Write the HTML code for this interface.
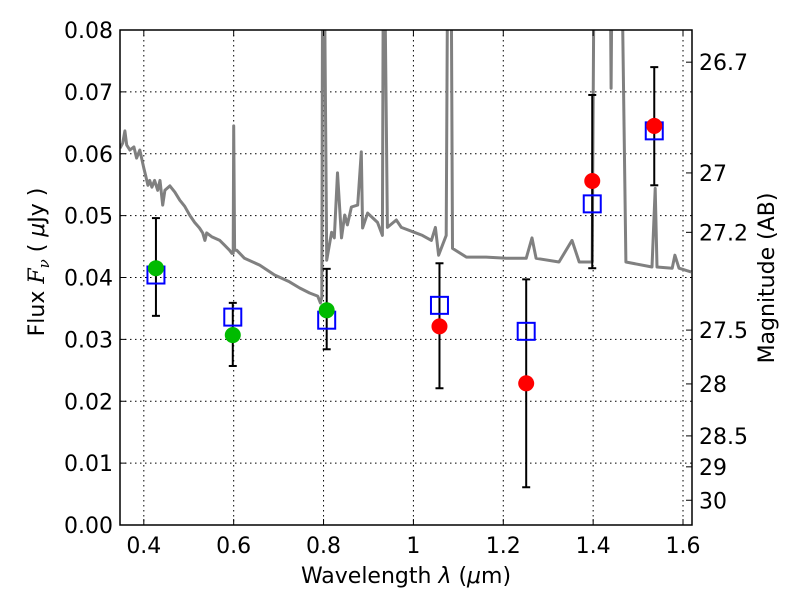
<!DOCTYPE html>
<html><head><meta charset="utf-8"><style>
body{margin:0;background:#fff}
svg text{font-family:"DejaVu Sans","Liberation Sans",sans-serif;fill:#000}
</style></head><body>
<svg id="chart" width="800" height="600" xmlns="http://www.w3.org/2000/svg">
<g id="grid"></g>
<g id="plot"></g>
<g id="axes"></g>
</svg>
<script>
const xTicks=[0.4,0.6,0.8,1.0,1.2,1.4,1.6];
const xTickLabels=["0.4","0.6","0.8","1","1.2","1.4","1.6"];
const yTicks=[0,0.01,0.02,0.03,0.04,0.05,0.06,0.07,0.08];
const yTickLabels=["0.00","0.01","0.02","0.03","0.04","0.05","0.06","0.07","0.08"];
const magLabels=["26.7","27","27.2","27.5","28","28.5","29","30"];
const magFlux=[0.0748,0.0569,0.0473,0.0315,0.0228,0.0144,0.0094,0.0040];
const specLam=[0.347,0.353,0.358,0.362,0.369,0.378,0.384,0.391,0.396,0.400,0.404,0.409,0.413,0.418,0.424,0.431,0.436,0.442,0.447,0.458,0.469,0.480,0.491,0.502,0.513,0.524,0.531,0.536,0.540,0.551,0.569,0.580,0.591,0.596,0.599,0.600,0.602,0.607,0.624,0.658,0.691,0.724,0.747,0.769,0.787,0.793,0.796,0.798,0.802,0.807,0.818,0.824,0.831,0.840,0.847,0.853,0.862,0.876,0.884,0.887,0.898,0.920,0.931,0.933,0.936,0.942,0.962,0.973,1.002,1.020,1.040,1.049,1.056,1.073,1.076,1.084,1.087,1.118,1.162,1.207,1.251,1.264,1.273,1.324,1.353,1.369,1.398,1.402,1.438,1.440,1.442,1.464,1.473,1.531,1.538,1.542,1.576,1.582,1.591,1.618];
const specFlux=[0.0609,0.0617,0.0637,0.0614,0.0606,0.0611,0.0593,0.0606,0.0590,0.0577,0.0565,0.0549,0.0557,0.0546,0.0557,0.0541,0.0557,0.0517,0.0541,0.0548,0.0538,0.0525,0.0515,0.0501,0.0489,0.0480,0.0472,0.0460,0.0472,0.0466,0.0460,0.0452,0.0444,0.0439,0.0439,0.0645,0.0444,0.0444,0.0431,0.0420,0.0404,0.0393,0.0383,0.0375,0.0370,0.0359,0.0368,0.09,0.09,0.0428,0.0473,0.0464,0.0569,0.0464,0.0501,0.0485,0.0514,0.0517,0.0603,0.0480,0.0504,0.0489,0.0468,0.09,0.09,0.0481,0.0493,0.0481,0.0473,0.0468,0.0460,0.0481,0.0436,0.0468,0.09,0.09,0.0447,0.0433,0.0433,0.0431,0.0431,0.0464,0.0431,0.0425,0.0460,0.0425,0.0425,0.09,0.09,0.0706,0.09,0.09,0.0425,0.0417,0.0544,0.0417,0.0415,0.0436,0.0415,0.0409];
const obsLam=[0.427,0.598,0.807,1.058,1.251,1.398,1.536];
const obsFlux=[0.0415,0.0307,0.0347,0.0321,0.0229,0.0556,0.0645];
const obsColor=["#00bb00","#00bb00","#00bb00","#ff0000","#ff0000","#ff0000","#ff0000"];
const modelFlux=[0.0404,0.0336,0.0331,0.0355,0.0313,0.0519,0.0637];
const errLow=[0.0338,0.0257,0.0284,0.0221,0.0061,0.0415,0.0549];
const errHigh=[0.0496,0.0359,0.0414,0.0423,0.0397,0.0695,0.0740];

const L=120,R=692,T=30,B=525,xmin=0.347,xmax=1.62,ymin=0,ymax=0.08;
const X=v=>L+(v-xmin)/(xmax-xmin)*(R-L);
const Y=v=>B-(v-ymin)/(ymax-ymin)*(B-T);
const NS="http://www.w3.org/2000/svg";
function mk(tag,attrs,parent){const e=document.createElementNS(NS,tag);for(const k in attrs)e.setAttribute(k,attrs[k]);parent.appendChild(e);return e;}
const grid=document.getElementById('grid'),plot=document.getElementById('plot'),axes=document.getElementById('axes');
const svg=document.getElementById('chart');
const defs=mk('defs',{},svg);const cp=mk('clipPath',{id:'clip'},defs);mk('rect',{x:L,y:T,width:R-L,height:B-T},cp);
plot.setAttribute('clip-path','url(#clip)');

xTicks.forEach((t,i)=>{
 let g=mk('line',{x1:X(t),x2:X(t),y1:T,y2:B,stroke:'#000','stroke-dasharray':'1.5,3.5','stroke-width':1},grid);
 
 mk('line',{x1:X(t),x2:X(t),y1:B,y2:B-6,stroke:'#000'},axes);
 mk('line',{x1:X(t),x2:X(t),y1:T,y2:T+6,stroke:'#000'},axes);
 let tx=mk('text',{x:X(t),y:B+28,'text-anchor':'middle','font-size':22},axes);tx.textContent=xTickLabels[i];
 
});
yTicks.forEach((t,i)=>{
 let g=mk('line',{x1:L,x2:R,y1:Y(t),y2:Y(t),stroke:'#000','stroke-dasharray':'1.5,3.5','stroke-width':1},grid);
 
 mk('line',{x1:L,x2:L+6,y1:Y(t),y2:Y(t),stroke:'#000'},axes);
 let tx=mk('text',{x:L-7,y:Y(t)+8,'text-anchor':'end','font-size':22},axes);tx.textContent=yTickLabels[i];
 
});
magFlux.forEach((f,i)=>{
 mk('line',{x1:R,x2:R-6,y1:Y(f),y2:Y(f),stroke:'#000'},axes);
 let tx=mk('text',{x:R+7,y:Y(f)+8,'font-size':22},axes);tx.textContent=magLabels[i];
 
});
let pts=specLam.map((l,i)=>X(l).toFixed(1)+','+Y(specFlux[i]).toFixed(1)).join(' ');
let sp=mk('polyline',{points:pts,fill:'none',stroke:'#808080','stroke-width':3,'stroke-linejoin':'round'},plot);

obsLam.forEach((l,i)=>{
 const x=X(l);
 let e=mk('g',{},plot);
 
 mk('line',{x1:x,x2:x,y1:Y(errLow[i]),y2:Y(errHigh[i]),stroke:'#000','stroke-width':2},e);
 mk('line',{x1:x-4,x2:x+4,y1:Y(errLow[i]),y2:Y(errLow[i]),stroke:'#000','stroke-width':2},e);
 mk('line',{x1:x-4,x2:x+4,y1:Y(errHigh[i]),y2:Y(errHigh[i]),stroke:'#000','stroke-width':2},e);
 let sq=mk('rect',{x:x-8.5,y:Y(modelFlux[i])-8.5,width:17,height:17,fill:'none',stroke:'#0000ff','stroke-width':2},plot);
 
 let c=mk('circle',{cx:x,cy:Y(obsFlux[i]),r:8,fill:obsColor[i]},plot);
 
});
let fr=mk('rect',{x:L,y:T,width:R-L,height:B-T,fill:'none',stroke:'#000','stroke-width':1.5},axes);

</script>
<svg style="position:absolute;left:0;top:0" width="800" height="600" xmlns="http://www.w3.org/2000/svg">
<text x="406" y="583" text-anchor="middle" font-size="22" font-family="DejaVu Sans, sans-serif">Wavelength  <tspan font-style="italic">λ</tspan> (<tspan font-style="italic">μ</tspan>m)</text>
<text transform="translate(44,262) rotate(-90)" text-anchor="middle" font-size="22" font-family="DejaVu Sans, sans-serif">Flux  <tspan font-family="DejaVu Serif, serif" font-style="italic">F</tspan><tspan font-family="DejaVu Serif, serif" font-style="italic" font-size="15" dy="5">ν</tspan><tspan dy="-5">  (  </tspan><tspan font-style="italic">μ</tspan>Jy )</text>
<text transform="translate(774,278) rotate(-90)" text-anchor="middle" font-size="22" font-family="DejaVu Sans, sans-serif">Magnitude (AB)</text>
</svg>
</body></html>
